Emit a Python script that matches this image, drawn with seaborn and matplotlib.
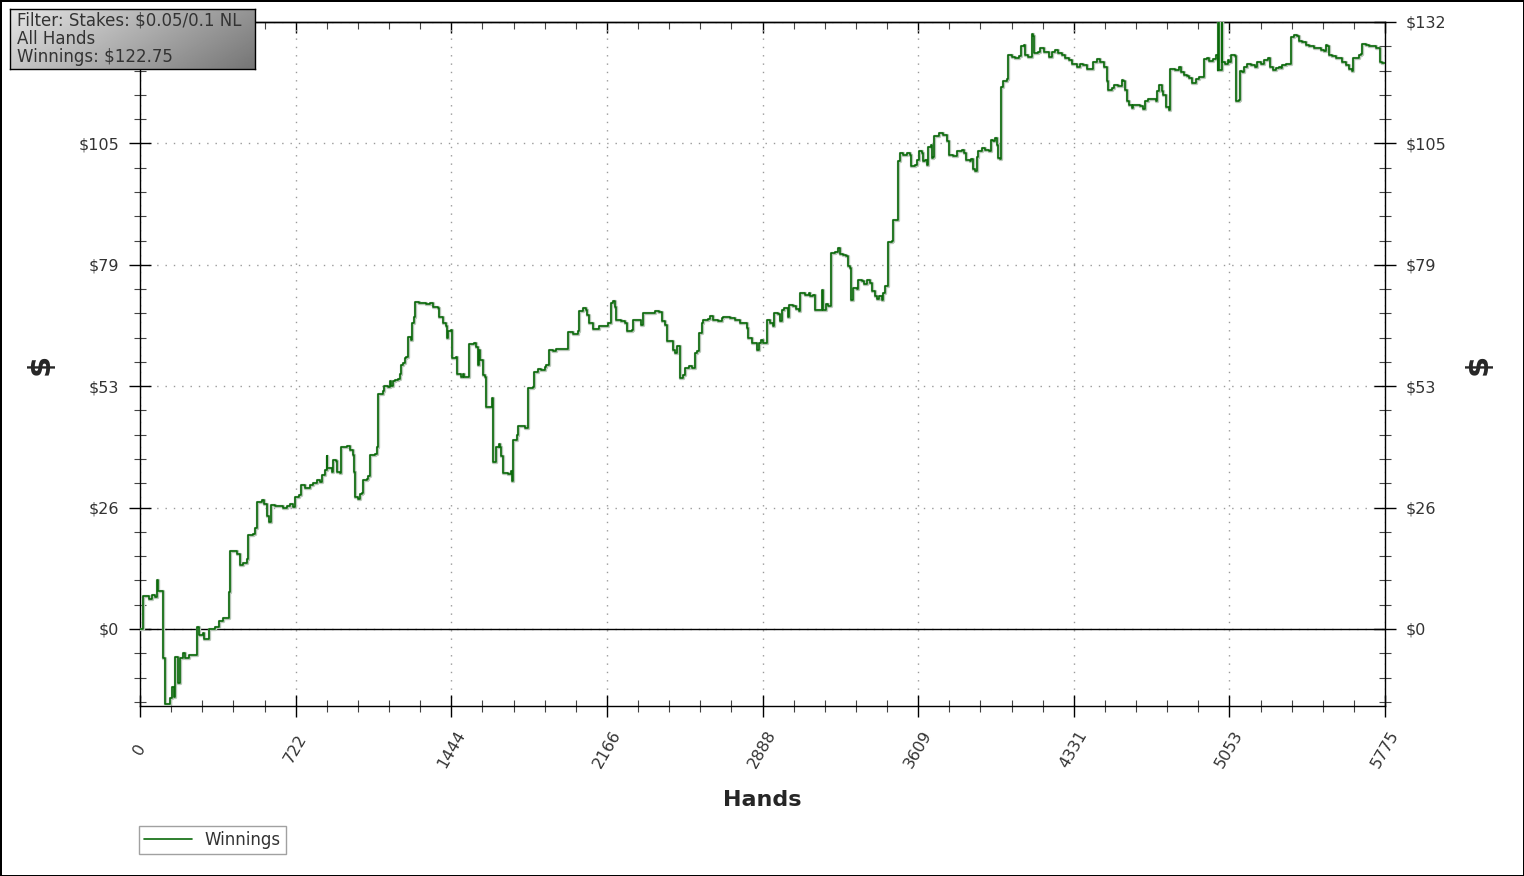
import numpy as np
import seaborn as sns
import matplotlib.pyplot as plt
from matplotlib.lines import Line2D
from matplotlib.ticker import MultipleLocator

sns.set_theme(style="white")
plt.rcParams['font.family'] = ['DejaVu Sans']

# Cumulative winnings in chunks (hand number, dollars)
hands_a = [0, 15, 40, 55, 70, 78, 82, 109, 116, 139,
           147, 159, 162, 175, 187, 200, 210, 225, 263, 272,
           290, 297, 320, 348, 366, 386, 413, 417]
winnings_a = [0, 7.2, 6.6, 7.4, 6.9, 10.6, 8.3, -6.3, -16.3, -15.0,
              -12.5, -14.7, -6.0, -11.7, -6.3, -5.2, -6.3, -5.7, 0.4, -1.3,
              -0.9, -2.2, 0.0, 0.4, 1.8, 2.3, 8.1, 17.0]

hands_b = [448, 464, 476, 495, 500, 526, 534, 541, 565, 577,
           588, 600, 608, 626, 665, 681, 696, 712, 719, 739,
           745, 765, 789, 804, 820, 835, 843, 858, 866, 869,
           889, 897, 909, 915, 928, 932, 958, 974, 989, 992,
           997, 1012, 1020, 1032, 1035, 1051, 1058, 1067, 1090, 1098]
winnings_b = [16.3, 13.9, 14.3, 15.1, 20.4, 20.6, 21.8, 27.6, 28.0, 27.2,
              24.4, 23.3, 26.9, 26.6, 26.3, 26.7, 27.1, 26.4, 28.7, 29.0,
              31.2, 30.6, 31.2, 31.6, 32.3, 31.9, 33.4, 34.5, 37.4, 34.8,
              34.1, 36.7, 36.4, 34.1, 33.8, 39.5, 39.6, 38.8, 37.7, 34.1,
              28.7, 28.1, 29.3, 29.4, 32.3, 32.6, 33.2, 37.7, 38.0, 39.5]

hands_c = [1103, 1127, 1134, 1150, 1158, 1165, 1173, 1181, 1196, 1204,
           1209, 1220, 1227, 1235, 1243, 1255, 1262, 1270, 1276, 1296,
           1327, 1347, 1358, 1381, 1389, 1404, 1420, 1424, 1430, 1443,
           1447, 1466, 1471, 1490, 1497, 1505, 1523, 1528, 1551, 1559,
           1567, 1571, 1579, 1590, 1598, 1603, 1621, 1632, 1637, 1652,
           1663, 1669, 1675, 1683, 1708, 1719, 1727, 1731, 1747, 1755,
           1786]
winnings_c = [51.0, 51.5, 52.7, 52.4, 53.7, 52.7, 53.7, 54.0, 54.2, 55.3,
              57.3, 57.6, 58.7, 59.0, 63.3, 62.7, 66.3, 67.7, 71.0, 70.6,
              70.5, 70.6, 69.9, 69.5, 67.7, 66.4, 65.6, 63.1, 64.5, 64.9,
              58.7, 58.9, 55.3, 54.7, 55.3, 54.6, 54.7, 61.8, 62.1, 61.2,
              57.3, 60.5, 58.4, 55.1, 54.7, 48.2, 48.2, 50.0, 36.3, 39.5,
              40.2, 39.5, 37.4, 33.8, 33.6, 34.2, 32.0, 41.0, 42.0, 43.9,
              43.6]

hands_d = [1799, 1822, 1829, 1848, 1862, 1877, 1885, 1896, 1916, 1928,
           1947, 1978, 1983, 2009, 2030, 2036, 2053, 2069, 2075, 2084,
           2103, 2118, 2130, 2157, 2172, 2180, 2183, 2192, 2203, 2210,
           2233, 2250, 2257, 2281, 2288, 2311, 2322, 2332, 2366, 2389,
           2409, 2420, 2435, 2443, 2466, 2474, 2482, 2489, 2500, 2505,
           2517, 2528, 2548, 2559, 2575, 2585, 2595, 2606, 2613, 2636,
           2644, 2659, 2683, 2698, 2706, 2737, 2760, 2783, 2814, 2822,
           2837, 2861, 2872, 2880, 2890]
winnings_d = [52.2, 52.4, 55.8, 56.4, 56.1, 56.8, 57.3, 60.4, 60.2, 60.7,
              60.8, 60.8, 64.3, 64.0, 64.5, 68.9, 69.5, 69.1, 68.1, 66.3,
              65.0, 65.0, 65.6, 65.6, 66.4, 66.3, 70.6, 71.2, 69.9, 67.0,
              66.7, 66.3, 64.5, 64.8, 67.0, 67.0, 65.9, 68.5, 68.4, 69.0,
              68.8, 66.7, 65.9, 62.4, 62.4, 60.5, 59.8, 61.3, 61.3, 54.5,
              55.0, 56.5, 57.0, 56.5, 59.8, 60.2, 64.1, 66.3, 67.0, 67.2,
              67.9, 66.9, 66.7, 67.4, 67.7, 67.4, 67.0, 66.3, 65.2, 63.0,
              61.9, 60.5, 61.9, 62.7, 61.9]

hands_e = [2908, 2924, 2935, 2942, 2958, 2970, 2976, 2989, 3004, 3012,
           3027, 3042, 3058, 3062, 3085, 3101, 3108, 3123, 3131, 3154,
           3162, 3166, 3182, 3192, 3205, 3224, 3236, 3247, 3262, 3275,
           3285, 3293, 3298, 3306, 3324, 3332, 3348, 3358, 3371, 3386,
           3394, 3409, 3420, 3429, 3440, 3448, 3456, 3471, 3487, 3492,
           3513, 3518, 3526, 3541, 3557, 3572, 3577, 3595, 3606, 3615,
           3626, 3630, 3641, 3649, 3657, 3668, 3673, 3680, 3685, 3704,
           3727, 3742, 3754, 3773, 3789, 3812, 3823, 3832, 3848, 3856,
           3863, 3874, 3882, 3889, 3905, 3920, 3936, 3947, 3959, 3966,
           3974, 3982, 3989]
winnings_e = [67.0, 66.3, 65.6, 68.5, 68.2, 66.7, 69.2, 69.5, 67.7, 70.3,
              70.0, 69.4, 68.9, 72.8, 72.5, 72.8, 72.1, 72.5, 69.2, 69.1,
              73.6, 69.1, 70.4, 70.1, 81.5, 81.8, 82.5, 81.3, 81.1, 80.8,
              78.7, 78.2, 71.4, 73.9, 73.7, 75.7, 75.4, 74.7, 75.7, 75.1,
              73.2, 72.1, 71.5, 72.1, 71.4, 72.8, 74.3, 84.0, 84.2, 88.7,
              88.7, 101.4, 103.2, 102.8, 103.2, 102.8, 100.3, 100.7, 101.7, 103.6,
              103.2, 101.4, 101.7, 100.7, 104.6, 105.0, 102.1, 102.4, 106.8, 107.5,
              107.1, 105.7, 102.8, 102.6, 103.6, 103.8, 103.2, 101.7, 101.4, 101.9,
              99.8, 99.4, 102.4, 103.6, 104.2, 103.9, 103.6, 106.1, 105.8, 106.4,
              105.0, 102.1, 101.9]

hands_f = [3992, 4005, 4020, 4025, 4044, 4059, 4075, 4086, 4101, 4105,
           4121, 4136, 4144, 4149, 4167, 4175, 4191, 4206, 4218, 4229,
           4245, 4260, 4276, 4291, 4307, 4322, 4345, 4360, 4376, 4391,
           4406, 4422, 4437, 4453, 4472, 4484, 4492, 4507, 4518, 4538,
           4553, 4561, 4569, 4577, 4589, 4600, 4607, 4623, 4638, 4651,
           4661, 4677, 4700, 4713, 4719, 4728, 4739, 4747, 4757, 4772,
           4780, 4803, 4818, 4829, 4841, 4857, 4868, 4880, 4890, 4898,
           4914]
winnings_f = [117.6, 118.8, 119.3, 124.5, 124.1, 123.7, 124.2, 126.5, 126.7, 124.5,
              124.1, 128.9, 128.6, 124.9, 125.2, 126.0, 125.2, 125.0, 124.0, 125.2,
              125.6, 124.9, 124.5, 123.7, 123.3, 122.6, 121.9, 122.6, 122.2, 121.5,
              121.5, 123.0, 123.6, 123.0, 121.9, 118.8, 116.9, 117.3, 118.0, 117.8,
              119.1, 118.8, 116.9, 114.4, 113.7, 112.9, 113.7, 113.5, 113.4, 112.7,
              114.4, 114.8, 114.8, 114.4, 116.6, 118.0, 116.6, 115.8, 113.1, 112.6,
              121.5, 121.2, 121.9, 120.8, 120.2, 119.9, 119.5, 118.4, 118.4, 119.3,
              119.6]

hands_g = [4929, 4934, 4948, 4960, 4976, 4991, 4999, 5002, 5006, 5017,
           5020, 5034, 5045, 5052, 5060, 5080, 5086, 5096, 5102, 5111,
           5122, 5137, 5153, 5173, 5183, 5199, 5214, 5230, 5241, 5256,
           5269, 5284, 5292, 5299, 5315, 5330, 5338, 5353, 5369, 5376,
           5392, 5407, 5423, 5438, 5446, 5461, 5477, 5492, 5500, 5508,
           5515, 5531, 5546, 5562, 5577, 5593, 5608, 5621, 5627, 5639,
           5655, 5662, 5670, 5686, 5701, 5717, 5732, 5744, 5750, 5763,
           5775]
winnings_g = [119.7, 123.5, 123.9, 123.2, 123.5, 124.5, 121.3, 132.5, 121.3, 132.5,
              123.0, 122.6, 123.3, 123.0, 124.5, 124.2, 114.5, 114.7, 121.0, 120.7,
              121.9, 122.4, 122.2, 121.9, 123.0, 122.6, 123.3, 123.7, 121.9, 121.3,
              121.6, 121.9, 121.6, 122.2, 122.6, 122.6, 128.3, 128.7, 128.5, 127.4,
              127.2, 126.6, 126.3, 126.3, 126.0, 126.0, 125.6, 125.4, 126.6, 126.3,
              124.5, 124.2, 123.7, 123.7, 123.0, 122.3, 121.5, 121.0, 123.7, 123.8,
              124.5, 124.7, 126.8, 126.6, 126.3, 126.3, 126.0, 126.0, 123.0, 122.75,
              122.75]

x_tick_labels = ["0", "722", "1444", "2166", "2888", "3609", "4331", "5053", "5775"]
y_tick_labels = ["$0", "$26", "$53", "$79", "$105", "$132"]
info_lines = ["Filter: Stakes: $0.05/0.1 NL", "All Hands", "Winnings: $122.75"]

hands = hands_a + hands_b + hands_c + hands_d + hands_e + hands_f + hands_g
winnings = (winnings_a + winnings_b + winnings_c + winnings_d
            + winnings_e + winnings_f + winnings_g)

x_max = 5775
y_top = 131.6
y_bottom = -16.7
x_major = [x_max * i / 8 for i in range(9)]

# Set up the figure with a thin black border
W, H = 1524, 876
fig = plt.figure(figsize=(W / 100, H / 100), dpi=100)
fig.patch.set_facecolor("white")
fig.patch.set_edgecolor("black")
fig.patch.set_linewidth(2)

ax = fig.add_axes([140 / W, 1 - 706 / H, 1245 / W, 684 / H])

# Light halo under the line, then the green step line itself
sns.lineplot(x=hands, y=winnings, ax=ax, drawstyle="steps-post", color="#b8c6b8",
             linewidth=2.4, estimator=None, sort=False, legend=False, zorder=3)
sns.lineplot(x=hands, y=winnings, ax=ax, drawstyle="steps-post", color="#0b6a0b",
             linewidth=1.2, estimator=None, sort=False, legend=False, zorder=4)

ax.axhline(0, color="black", linewidth=1, zorder=2)

ax.set_xlim(0, x_max)
ax.set_ylim(y_bottom, y_top)

ax.set_xticks(x_major)
ax.set_xticklabels(x_tick_labels)
ax.set_yticks([y_top * i / 5 for i in range(6)])
ax.set_yticklabels(y_tick_labels)
ax.xaxis.set_minor_locator(MultipleLocator(x_max / 40))
ax.yaxis.set_minor_locator(MultipleLocator(y_top / 25))

ax.tick_params(which="both", direction="inout", top=False, right=True,
               bottom=True, left=True, labelright=True, labelsize=11.5,
               labelcolor="#333333")
ax.tick_params(which="major", length=16, width=1, color="black", pad=7)
ax.tick_params(which="minor", length=8.5, width=0.8, color="#444444")
ax.tick_params(axis="x", which="major", pad=23, labelrotation=60)
for lab in ax.get_xticklabels():
    lab.set_horizontalalignment("center")
    lab.set_verticalalignment("center")
# The left "$132" sits under the info box, so it is not shown
ax.yaxis.get_major_ticks()[-1].label1.set_visible(False)

# Top edge: ticks pointing inward only
top = ax.secondary_xaxis("top")
top.set_xticks(x_major)
top.set_xticklabels([])
top.xaxis.set_minor_locator(MultipleLocator(x_max / 40))
top.tick_params(which="both", direction="in", labeltop=False)
top.tick_params(which="major", length=8, width=1, color="black")
top.tick_params(which="minor", length=5, width=0.8, color="#444444")
top.spines["top"].set_color("black")
top.spines["top"].set_linewidth(1)

ax.grid(True, which="major", linestyle=(0, (1, 5)), color="#9a9a9a", linewidth=1)
for side in ["left", "right", "top", "bottom"]:
    ax.spines[side].set_color("black")
    ax.spines[side].set_linewidth(1)

ax.set_ylabel("$", fontsize=22, fontweight="bold", rotation=90)
ax.yaxis.set_label_coords((40 - 140) / 1245, 0.5)
ax.yaxis.label.set_verticalalignment("center")
ax.text((1478 - 140) / 1245, 0.5, "$", transform=ax.transAxes, rotation=90,
        ha="center", va="center", fontsize=22, fontweight="bold")

ax.set_xlabel("Hands", fontsize=16, fontweight="bold")
ax.xaxis.set_label_coords(0.5, (706 - 800) / 684)
ax.xaxis.label.set_verticalalignment("center")

# Legend below the plot area
handle = Line2D([], [], color="#0b6a0b", linewidth=1.2)
leg = fig.legend([handle], ["Winnings"], loc="lower left",
                 bbox_to_anchor=(139 / W, 1 - 854 / H), borderaxespad=0,
                 fontsize=12, fancybox=False, frameon=True, handlelength=2.9,
                 handletextpad=0.75, borderpad=0.3)
leg.get_frame().set_edgecolor("#8a8a8a")
leg.get_frame().set_linewidth(1)
for t in leg.get_texts():
    t.set_color("#333333")

# Info box with a gray gradient in the top-left corner
bax = fig.add_axes([10 / W, 1 - 69 / H, 245 / W, 60 / H], zorder=5)
yy, xx = np.mgrid[0:1:60j, 0:1:245j]
shade = 0.9 - 0.32 * xx - 0.12 * yy
bax.imshow(shade, cmap="gray", vmin=0, vmax=1, aspect="auto", extent=[0, 1, 0, 1])
bax.set_xticks([])
bax.set_yticks([])
for side in bax.spines.values():
    side.set_color("black")
    side.set_linewidth(1)
fig.text(17 / W, 1 - 38.5 / H, "\n".join(info_lines), fontsize=12, color="#333333",
         va="center", ha="left", multialignment="left", linespacing=1.0, zorder=6)

fig.savefig("out.png", dpi=100)
